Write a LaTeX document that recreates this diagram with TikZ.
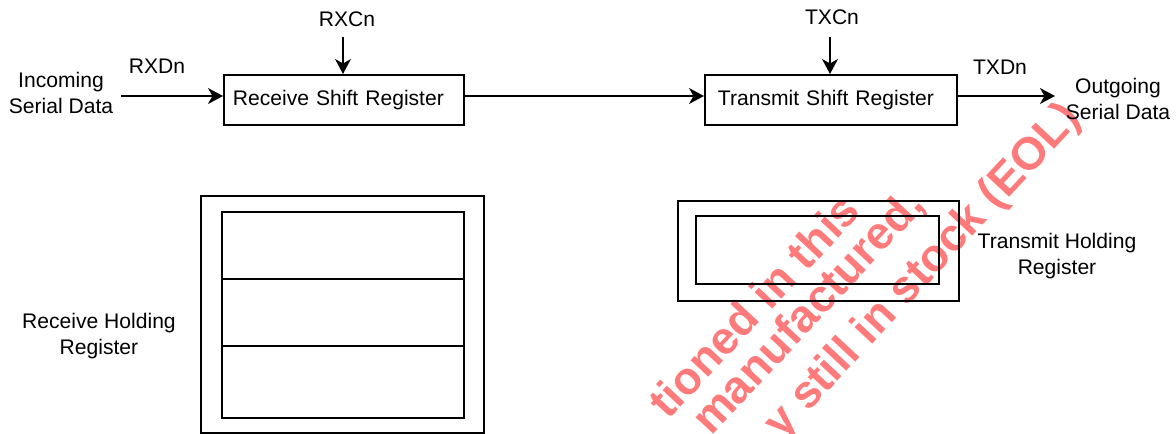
\documentclass[tikz,border=0pt]{standalone}
\usepackage{fontspec}
\setmainfont{Liberation Sans}
\usetikzlibrary{arrows.meta}
\definecolor{wm}{RGB}{255,122,122}
\begin{document}
\begin{tikzpicture}[x=0.02cm,y=-0.02cm,
  lbl/.style={inner sep=0pt, font=\fontsize{12}{14.6}\selectfont, align=center},
  shiftreg/.style={draw, line width=1.1pt, anchor=north west, minimum height=50*0.02cm, inner ysep=0pt, align=left, font=\fontsize{12}{14}\selectfont},
  boxr/.style={draw, line width=1.1pt, anchor=north west, inner sep=0pt},
  arr/.style={line width=1.1pt, -{Stealth[length=8.5pt,width=9pt,inset=2.5pt]}},
  wmark/.style={text=wm, font=\bfseries\fontsize{26}{26}\selectfont, rotate=47, anchor=base west, inner sep=0pt}
]
\useasboundingbox (0,0) rectangle (1176,433);
\clip (0,0) rectangle (1176,433);
\fill[white] (0,0) rectangle (1176,433);

% watermark (behind)
\node[wmark] (wm1) at (668,421) {tioned in this};
\node[wmark] (wm2) at (711,437) {manufactured,};
\node[wmark] (wm3) at (782,441) {y still in stock (EOL)};

% shift registers
\node[shiftreg, minimum width=240*0.02cm, inner xsep=9*0.02cm, text width=222*0.02cm] (rsr) at (223,74) {Receive Shift Register};
\node[shiftreg, minimum width=252*0.02cm, inner xsep=13*0.02cm, text width=226*0.02cm] (tsr) at (704,74) {Transmit Shift Register};

% labels
\node[lbl] (inc) at (61,93) {Incoming\\Serial Data};
\node[lbl] (rxd) at (157,66) {RXDn};
\node[lbl] (rxc) at (347,19) {RXCn};
\node[lbl] (txc) at (832,17) {TXCn};
\node[lbl] (txd) at (1000,67) {TXDn};
\node[lbl] (outg) at (1118,99) {Outgoing\\Serial Data};

% connectors
\coordinate (inS) at (121,96);
\coordinate (outE) at (1055,96);
\coordinate (rxcS) at (343,37);
\coordinate (txcS) at (830,37);
\draw[arr] (inS) -- (inS -| rsr.west);
\draw[arr] (rsr.east |- inS) -- (tsr.west |- inS);
\draw[arr] (tsr.east |- inS) -- (outE);
\draw[arr] (rxcS) -- (rxcS |- rsr.north);
\draw[arr] (txcS) -- (txcS |- tsr.north);

% receive holding register
\node[boxr, minimum width=283*0.02cm, minimum height=237*0.02cm] (rho) at (200,195) {};
\node[boxr, minimum width=242*0.02cm, minimum height=206*0.02cm] (rhi) at (221,211) {};
\coordinate (d1) at (0,279);
\coordinate (d2) at (0,346);
\draw[line width=1.1pt] (rhi.west |- d1) -- (rhi.east |- d1);
\draw[line width=1.1pt] (rhi.west |- d2) -- (rhi.east |- d2);
\node[lbl] (rhl) at (99,336) {Receive Holding\\Register};

% transmit holding register
\node[boxr, minimum width=281*0.02cm, minimum height=100*0.02cm] (tho) at (677,200) {};
\node[boxr, minimum width=243*0.02cm, minimum height=68*0.02cm] (thi) at (695,215) {};
\node[lbl] (thl) at (1057,256) {Transmit Holding\\Register};
\end{tikzpicture}
\end{document}
